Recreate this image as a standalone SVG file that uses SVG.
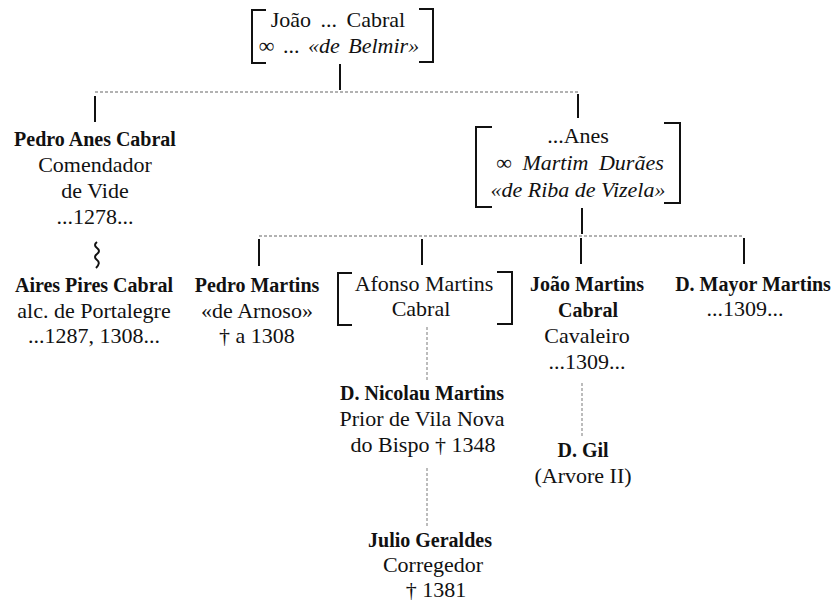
<svg xmlns="http://www.w3.org/2000/svg" width="831" height="602" viewBox="0 0 831 602">
<style>
text{font-family:"Liberation Serif","Times New Roman",serif;font-size:22px;fill:#111;text-anchor:middle}
.b{font-weight:bold;font-size:20px}
.i{font-style:italic}
.br{fill:none;stroke:#111;stroke-width:2}
.tick{stroke:#111;stroke-width:2}
.dot{stroke:#999;stroke-width:1.3;stroke-dasharray:3 2;fill:none}
</style>
<rect width="831" height="602" fill="#fff"/>
<g id="connectors">
<line class="dot" x1="95" y1="92" x2="578" y2="92"/>
<line class="dot" x1="259" y1="236" x2="744" y2="236"/>
<line class="tick" x1="340" y1="64" x2="340" y2="90"/>
<line class="tick" x1="95" y1="96" x2="95" y2="122"/>
<line class="tick" x1="578" y1="94" x2="578" y2="118"/>
<line class="tick" x1="582" y1="208" x2="582" y2="234"/>
<line class="tick" x1="259" y1="239" x2="259" y2="266"/>
<line class="tick" x1="422" y1="239" x2="422" y2="265"/>
<line class="tick" x1="581" y1="238" x2="581" y2="264"/>
<line class="tick" x1="744" y1="238" x2="744" y2="264"/>
<line class="dot" x1="427" y1="327" x2="427" y2="382"/>
<line class="dot" x1="427" y1="468" x2="427" y2="527"/>
<line class="dot" x1="582" y1="383" x2="582" y2="437"/>
<path class="br" d="M97 242 q-4 3 0 6 q4 3 0 6 q-4 3 0 6 q4 3 -1 8"/>
</g>
<g id="joao-cabral">
<path class="br" d="M266 10 H252 V63 H266"/>
<path class="br" d="M419 9 H433 V62 H419"/>
<text x="338" y="27" word-spacing="4">João ... Cabral</text>
<text x="339" y="53" word-spacing="3">∞ ... <tspan class="i">«de Belmir»</tspan></text>
</g>
<g id="pedro-anes-cabral">
<text class="b" x="95" y="146">Pedro Anes Cabral</text>
<text x="95" y="172">Comendador</text>
<text x="95" y="198">de Vide</text>
<text x="95" y="224">...1278...</text>
</g>
<g id="aires-pires-cabral">
<text class="b" x="94" y="292">Aires Pires Cabral</text>
<text x="94" y="318">alc. de Portalegre</text>
<text x="94" y="343">...1287, 1308...</text>
</g>
<g id="anes">
<path class="br" d="M492 127 H476 V207 H492"/>
<path class="br" d="M664 123 H680 V203 H664"/>
<text x="578" y="143">...Anes</text>
<text x="580" y="170" word-spacing="5">∞ <tspan class="i">Martim Durães</tspan></text>
<text class="i" x="578" y="197">«de Riba de Vizela»</text>
</g>
<g id="pedro-martins">
<text class="b" x="257" y="292">Pedro Martins</text>
<text x="257" y="318">«de Arnoso»</text>
<text x="257" y="343">† a 1308</text>
</g>
<g id="afonso-martins-cabral">
<path class="br" d="M352 273 H338 V325 H352"/>
<path class="br" d="M497 272 H512 V324 H497"/>
<text x="424" y="291">Afonso Martins</text>
<text x="421" y="316">Cabral</text>
</g>
<g id="joao-martins-cabral">
<text class="b" x="587" y="291">João Martins</text>
<text class="b" x="588" y="317">Cabral</text>
<text x="587" y="343">Cavaleiro</text>
<text x="587" y="369">...1309...</text>
</g>
<g id="d-mayor-martins">
<text class="b" x="753" y="291">D. Mayor Martins</text>
<text x="745" y="316">...1309...</text>
</g>
<g id="d-nicolau-martins">
<text class="b" x="422" y="400">D. Nicolau Martins</text>
<text x="422" y="426">Prior de Vila Nova</text>
<text x="423" y="452">do Bispo † 1348</text>
</g>
<g id="d-gil">
<text class="b" x="583" y="457">D. Gil</text>
<text x="583" y="483">(Arvore II)</text>
</g>
<g id="julio-geraldes">
<text class="b" x="430" y="547">Julio Geraldes</text>
<text x="433" y="572">Corregedor</text>
<text x="436" y="597">† 1381</text>
</g>
</svg>
